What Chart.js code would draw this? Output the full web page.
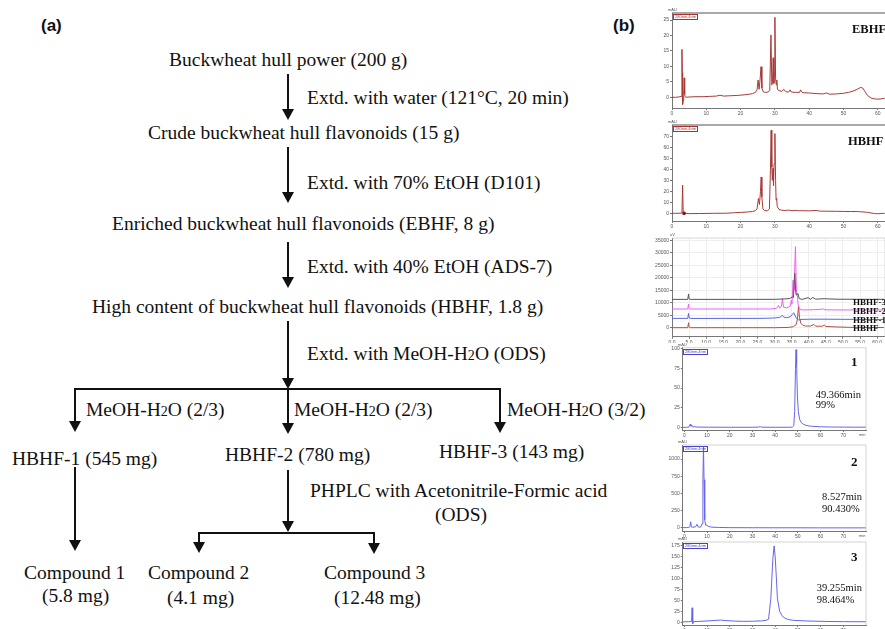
<!DOCTYPE html>
<html><head><meta charset="utf-8">
<script src="https://cdn.jsdelivr.net/npm/chart.js@4"></script>
<style>
html,body{margin:0;padding:0;background:#fff;}
#fig{position:relative;width:885px;height:629px;overflow:hidden;background:#fff;}
.t{position:absolute;white-space:nowrap;font-family:"Liberation Serif","Times New Roman",serif;font-size:19.5px;line-height:1;color:#111;transform:translateY(-50%);}
.s{font-size:0.72em;}
.lab{position:absolute;white-space:nowrap;font-family:"Liberation Sans",Arial,sans-serif;font-weight:bold;font-size:17px;line-height:1;transform:translateY(-50%);color:#111;}
.pl{position:absolute;white-space:nowrap;font-family:"Liberation Serif","Times New Roman",serif;line-height:1;transform:translateY(-50%);color:#111;}
.b{font-weight:bold;}
.tiny{position:absolute;white-space:nowrap;font-family:"Liberation Sans",Arial,sans-serif;font-size:4px;line-height:1;color:#555;}
.box{border:0.6px solid;padding:0 1px;}
canvas{position:absolute;}
svg{position:absolute;left:0;top:0;}
</style></head>
<body><div id="fig">
<div class="lab" style="left:41px;top:25px">(a)</div>
<div class="lab" style="left:613px;top:25px">(b)</div>

<div class="t" style="left:169px;top:60px">Buckwheat hull power (200 g)</div>
<div class="t" style="left:307px;top:98px">Extd. with water (121°C, 20 min)</div>
<div class="t" style="left:148px;top:133px">Crude buckwheat hull flavonoids (15 g)</div>
<div class="t" style="left:307px;top:183px">Extd. with 70% EtOH (D101)</div>
<div class="t" style="left:112px;top:224px">Enriched buckwheat hull flavonoids (EBHF, 8 g)</div>
<div class="t" style="left:307px;top:267px">Extd. with 40% EtOH (ADS-7)</div>
<div class="t" style="left:92px;top:307px">High content of buckwheat hull flavonoids (HBHF, 1.8 g)</div>
<div class="t" style="left:307px;top:354px">Extd. with MeOH-H<span class="s">2</span>O (ODS)</div>
<div class="t" style="left:86px;top:410px">MeOH-H<span class="s">2</span>O (2/3)</div>
<div class="t" style="left:294px;top:410px">MeOH-H<span class="s">2</span>O (2/3)</div>
<div class="t" style="left:507px;top:410px">MeOH-H<span class="s">2</span>O (3/2)</div>
<div class="t" style="left:12px;top:459px">HBHF-1 (545 mg)</div>
<div class="t" style="left:225px;top:455px">HBHF-2 (780 mg)</div>
<div class="t" style="left:439px;top:452px">HBHF-3 (143 mg)</div>
<div class="t" style="left:310px;top:491px">PHPLC with Acetonitrile-Formic acid</div>
<div class="t" style="left:435px;top:515px">(ODS)</div>
<div class="t" style="left:24px;top:573px">Compound 1</div>
<div class="t" style="left:42px;top:596px">(5.8 mg)</div>
<div class="t" style="left:148px;top:573px">Compound 2</div>
<div class="t" style="left:167px;top:598px">(4.1 mg)</div>
<div class="t" style="left:324px;top:573px">Compound 3</div>
<div class="t" style="left:334px;top:598px">(12.48 mg)</div>
</div>
<script>
// ---------------- data ----------------
// (b) top: EBHF chromatogram, [time (min), signal (mAU)]
const ebhfTrace = [[0,0],[1,0],[2,0.1],[2.7,0.3],[2.9,15.5],[3.0,8],[3.1,-2.3],[3.25,-1],[3.4,0.6],[3.55,6.3],[3.7,1],[3.85,0.2],[4.1,0],[5,0.1],[7,0.2],[9,0.2],[11,0.3],[13,0.4],[14,0.7],[15,0.4],[17,0.5],[19,0.6],[21,0.8],[22.5,1.0],[23.5,1.2],[24.3,1.6],[24.8,2.4],[25.1,5.6],[25.4,2.6],[25.7,6],[25.95,9.9],[26.2,3],[26.6,1.8],[27.2,1.6],[28,1.7],[28.5,2.2],[28.85,20.2],[29.1,4],[29.3,5],[29.5,12.8],[29.7,4.5],[29.85,8],[30.0,25.9],[30.2,6],[30.4,4],[30.55,5.6],[30.75,2.5],[31.2,2.2],[32,1.9],[32.6,2.6],[33.2,1.8],[34,1.7],[34.4,2.4],[34.8,1.7],[36,1.6],[37.2,1.6],[37.5,2.4],[38,1.5],[40,1.4],[42,1.2],[44,1.1],[45,1.4],[46,1.0],[48,1.1],[50,1.3],[51.5,1.6],[53,2.1],[54,2.6],[55,3.2],[55.6,3.0],[56.3,1.8],[57,0.6],[58,-0.2],[59,-0.5],[60,-0.6],[61,-0.5],[62,-0.3]];
// (b) second: HBHF chromatogram
const hbhfTrace = [[0,0],[1,0],[2,0],[2.9,0.3],[3.1,25.7],[3.25,2],[3.5,0],[5,-0.3],[8,-0.2],[12,0],[16,0.1],[18,0.5],[20,0.8],[22,1.2],[23.5,1.6],[24.3,2.5],[24.8,4],[25.2,13.6],[25.5,8],[25.8,20],[26.0,33],[26.2,15],[26.5,4],[27,2.5],[27.8,2.3],[28.4,4],[28.7,40],[28.9,75.5],[29.1,42],[29.25,30],[29.45,40.8],[29.6,25],[29.75,45],[30.0,72.5],[30.2,30],[30.35,12],[30.5,13.6],[30.7,6],[31.2,3.5],[32,2.8],[33,2.6],[34,2.9],[35,2.4],[36,2.7],[37,2.3],[38,2.4],[40,2.2],[42,2.6],[43,2.0],[45,1.9],[48,1.8],[50,1.7],[52,1.6],[54,1.6],[55,1.4],[57,0.9],[58,0.3],[59,-0.2],[60,-0.4],[61,-0.2],[62,0]];
const hbhfMarker = [[3.5,0]];
// (b) third: overlay of fractions (stacked baselines)
const ovHBHF = [[0,0],[4.6,0],[4.85,2000],[5.0,300],[5.3,0],[10,0],[20,0],[30,0],[34,100],[35.5,400],[36.3,1200],[36.7,3500],[37.0,8700],[37.3,4000],[37.7,1800],[38.3,900],[39,700],[40.5,650],[41.5,1300],[42,600],[44,600],[44.5,1100],[45,500],[48,300],[52,150],[56,100],[62,50]];
const ovHBHF1 = [[0,3730],[4.6,3730],[4.85,5730],[5.0,3900],[5.5,3700],[15,3730],[25,3730],[28,3800],[30,3900],[31.5,4100],[32.3,4900],[32.7,4200],[33.5,4000],[34.5,4300],[35.3,5500],[35.6,6000],[36,4800],[36.5,3600],[37,3100],[38,3300],[40,3400],[45,3400],[50,3350],[62,3300]];
const ovHBHF2 = [[0,7470],[4.6,7470],[4.85,9470],[5.0,7600],[5.5,7470],[20,7470],[29,7500],[30.5,7700],[31.2,8900],[31.5,7800],[32.0,8500],[32.3,11700],[32.6,8200],[33.5,7900],[34.6,8600],[34.9,11000],[35.1,9500],[35.4,19000],[35.7,15000],[36.1,32400],[36.4,14000],[36.7,12400],[36.9,9100],[37.3,7500],[38,7100],[40,7150],[43,7250],[44,7500],[45,7150],[50,7100],[62,7100]];
const ovHBHF3 = [[0,11330],[4.6,11330],[4.85,13500],[5.0,11500],[5.5,11330],[20,11330],[30,11350],[33,11500],[34.5,11700],[35.2,12400],[35.5,12000],[35.9,21700],[36.2,14000],[36.4,13000],[36.8,13700],[37.2,11700],[38,11300],[39.8,12000],[40.5,11400],[41.2,12100],[42,11400],[44.5,11600],[48,11400],[55,11350],[62,11350]];
// (b) compounds 1-3 purity chromatograms
const cmp1Trace = [[-0.7,0],[1,0],[2,0.3],[2.6,3.8],[2.9,1.5],[3.2,3],[3.6,0.5],[4.5,0.8],[6,0.3],[10,0.2],[20,0.1],[30,0.1],[32.8,0.3],[33.4,1],[34,0.2],[40,0.1],[46,0.1],[47.6,0.3],[48.2,2],[48.6,20],[48.95,75],[49.2,99],[49.45,80],[49.8,40],[50.2,20],[50.8,10],[51.5,6],[52.5,3.8],[54,2.2],[56,1.3],[60,0.7],[65,0.4],[70,0.3],[75,0.2],[80,0.2]];
const cmp2Trace = [[-0.7,5],[1,6],[2,8],[2.5,20],[2.8,91],[3.1,15],[3.8,10],[5,18],[5.6,53],[6.1,15],[7.2,12],[7.8,60],[8.2,700],[8.45,1173],[8.7,700],[9.0,120],[9.4,40],[9.9,43],[10.5,25],[12,12],[15,8],[20,5],[30,4],[40,3],[50,3],[60,2],[70,2],[80,2]];
const cmp3Trace = [[-0.7,1],[2,1.5],[3.2,2],[3.45,33],[3.7,-3],[4.0,1.5],[6,2],[10,3],[14,4.5],[16,5],[18,4],[22,2.8],[26,2.2],[30,2.5],[34,3.2],[36,4.5],[37.1,7],[38.1,54],[39.0,145],[39.55,173.5],[40.0,150],[40.5,105],[41,54],[42,25],[43,15],[44.4,9],[46,6],[48,4.5],[54,3],[62,2],[70,1.5],[80,1.2]];

// tick values / labels
const xTicksA = [0,10,20,30,40,50,60];
const xLabelsA = ['0','10','20','30','40','50','60'];
const yTicks1 = [0,5,10,15,20,25];
const yTicks2 = [0,10,20,30,40,50,60,70];
const xTicks3 = [0,5,10,15,20,25,30,35,40,45,50,55,60];
const xLabels3 = ['0.0','5.0','10.0','15.0','20.0','25.0','30.0','35.0','40.0','45.0','50.0','55.0','60.0'];
const yTicks3 = [0,5000,10000,15000,20000,25000,30000,35000];
const xTicksC = [0,10,20,30,40,50,60,70];
const xLabelsC = ['0','10','20','30','40','50','60','70'];
const yTicks4 = [0,25,50,75,100];
const yTicks5 = [0,250,500,750,1000];
const yTicks6 = [0,25,50,75,100,125,150,175];

// ---------------- flowchart arrows ----------------
const fig = document.getElementById('fig');
const NS = 'http://www.w3.org/2000/svg';
const svg = document.createElementNS(NS,'svg');
svg.setAttribute('width','885'); svg.setAttribute('height','629');
fig.insertBefore(svg, fig.firstChild);
function seg(x1,y1,x2,y2){const l=document.createElementNS(NS,'line');l.setAttribute('x1',x1);l.setAttribute('y1',y1);l.setAttribute('x2',x2);l.setAttribute('y2',y2);l.setAttribute('stroke','#111');l.setAttribute('stroke-width','2');l.setAttribute('stroke-linecap','square');svg.appendChild(l);}
function arrow(x,y1,y2){seg(x,y1,x,y2-8);const p=document.createElementNS(NS,'polygon');p.setAttribute('points',`${x-6},${y2-11} ${x+6},${y2-11} ${x},${y2}`);p.setAttribute('fill','#111');svg.appendChild(p);}
arrow(288,75,120); arrow(288,148,203); arrow(288,243,288); arrow(288,322,389);
seg(75,389,500,389);
arrow(75,389,432); arrow(288,389,434); arrow(500,389,433);
arrow(75,468,551); arrow(288,471,532);
seg(199,533,374,533);
arrow(199,533,553); arrow(374,533,554);

// ---------------- chromatogram panels ----------------
const framePlugin = {id:'frame', afterDraw(chart,args,o){
  if(!o || !o.sides) return; const a=chart.chartArea, ctx=chart.ctx;
  ctx.save(); ctx.strokeStyle=o.color; ctx.lineWidth=o.width; ctx.beginPath();
  if(o.sides.includes('t')){ctx.moveTo(a.left,a.top);ctx.lineTo(a.right,a.top);}
  if(o.sides.includes('r')){ctx.moveTo(a.right,a.top);ctx.lineTo(a.right,a.bottom);}
  ctx.stroke(); ctx.restore();}};
const pts = arr => arr.map(p => ({x:p[0], y:p[1]}));
const tickFont = {size:5, family:'Liberation Sans'};
function panel(box, area, xr, yr, xt, xl, yt, datasets, frame, gridOn){
  const c=document.createElement('canvas'); c.width=box.w; c.height=box.h;
  c.style.left=box.x+'px'; c.style.top=box.y+'px'; c.style.width=box.w+'px'; c.style.height=box.h+'px';
  fig.appendChild(c);
  const yW=area.l-box.x, xH=box.y+box.h-area.b;
  new Chart(c,{type:'line',data:{datasets},
    options:{responsive:false,animation:false,devicePixelRatio:1,
      layout:{autoPadding:false,padding:{left:0,top:area.t-box.y,right:box.x+box.w-area.r,bottom:0}},
      plugins:{legend:{display:false},tooltip:{enabled:false},frame},
      elements:{point:{radius:0},line:{borderWidth:1,tension:0}},
      scales:{
        x:{type:'linear',min:xr[0],max:xr[1],afterFit:s=>{s.height=xH;},
           afterBuildTicks:s=>{s.ticks=xt.map(v=>({value:v}));},
           ticks:{callback:(v,i)=>xl[i],font:tickFont,color:'#555',padding:1,maxRotation:0,autoSkip:false},
           grid:{drawOnChartArea:!!gridOn,color:gridOn?'#eeeeee':'#777',tickColor:'#777',tickLength:2},
           border:{color:'#777',width:1}},
        y:{type:'linear',min:yr[0],max:yr[1],afterFit:s=>{s.width=yW;},
           afterBuildTicks:s=>{s.ticks=yt.map(v=>({value:v}));},
           ticks:{callback:v=>String(v),font:tickFont,color:'#555',padding:1,autoSkip:false},
           grid:{drawOnChartArea:!!gridOn,color:gridOn?'#eeeeee':'#777',tickColor:'#777',tickLength:2},
           border:{color:'#777',width:1}}
      }},plugins:[framePlugin]});
}
const red='#a83a36', blue='#6666e8';
const ds = (arr,col,extra) => Object.assign({data:pts(arr),borderColor:col,borderWidth:1,pointRadius:0,fill:false},extra||{});

panel({x:640,y:4,w:245,h:113},{l:672,t:13,r:885,b:108},[0,62.1],[-3.46,27.28],xTicksA,xLabelsA,yTicks1,
  [ds(ebhfTrace,red)],{sides:'t',color:'#555',width:1.2});
panel({x:640,y:117,w:245,h:113},{l:672,t:125,r:885,b:221},[0,62.1],[-7,80.3],xTicksA,xLabelsA,yTicks2,
  [ds(hbhfMarker,'#8a1010',{pointRadius:1.6,pointStyle:'rect',pointBackgroundColor:'#8a1010',showLine:false}),ds(hbhfTrace,red)],{sides:'t',color:'#555',width:1.2});
panel({x:640,y:230,w:245,h:113},{l:672,t:238,r:885,b:336.7},[0,62.3],[-3600,35880],xTicks3,xLabels3,yTicks3,
  [ds(ovHBHF3,'#555555'),ds(ovHBHF2,'#f060f0'),ds(ovHBHF1,'#5a66e0'),ds(ovHBHF,'#b0503c')],{sides:'tr',color:'#cccccc',width:0.8},true);
panel({x:645,y:343,w:235,h:96},{l:682.7,t:347.7,r:866,b:430},[-0.7,80],[-3.4,101.5],xTicksC,xLabelsC,yTicks4,
  [ds(cmp1Trace,blue)],{sides:'tr',color:'#c8c8c8',width:0.8});
panel({x:645,y:439,w:235,h:99},{l:682.7,t:445,r:866,b:531},[-0.7,80],[-43.5,1203],xTicksC,xLabelsC,yTicks5,
  [ds(cmp2Trace,blue)],{sides:'tr',color:'#c8c8c8',width:0.8});
panel({x:645,y:538,w:235,h:91},{l:682.7,t:541.7,r:866,b:625},[-0.7,80],[-6.1,182.4],xTicksC,xLabelsC,yTicks6,
  [ds(cmp3Trace,blue)],{sides:'tr',color:'#c8c8c8',width:0.8});

// ---------------- panel texts ----------------
function txt(cls,html,left,top,size,extra){const d=document.createElement('div');d.className=cls;d.innerHTML=html;d.style.left=left+'px';d.style.top=top+'px';if(size)d.style.fontSize=size+'px';if(extra)Object.assign(d.style,extra);fig.appendChild(d);}
txt('pl b','EBHF',852,29,12.5);
txt('pl b','HBHF',848,141,12.5);
txt('pl b','HBHF-3',853,302,9);
txt('pl b','HBHF-2',853,311,9);
txt('pl b','HBHF-1',853,319.5,9);
txt('pl b','HBHF',853,327.5,9);
txt('pl b','1',851,361,13);
txt('pl','49.366min',815.7,395,10.5);
txt('pl','99%',815.7,405,10.5);
txt('pl b','2',851,461,13);
txt('pl','8.527min',822,497,10.5);
txt('pl','90.430%',822,509,10.5);
txt('pl b','3',851,556,13);
txt('pl','39.255min',816.7,587.5,10.5);
txt('pl','98.464%',816.7,600,10.5);
// small instrument annotations
txt('tiny','mAU',668,8);
txt('tiny','mAU',668,120);
txt('tiny','uV',670,233);
txt('tiny','mAU',678,343);
txt('tiny','mAU',678,440);
txt('tiny','mAU',678,537);
txt('tiny box','280nm,4nm',673,13.5,null,{color:'#b03030',borderColor:'#b03030'});
txt('tiny box','280nm,4nm',673,125.5,null,{color:'#b03030',borderColor:'#b03030'});
txt('tiny box','280nm,4nm',683,348.5,null,{color:'#4444cc',borderColor:'#4444cc'});
txt('tiny box','280nm,4nm',683,445.5,null,{color:'#4444cc',borderColor:'#4444cc'});
txt('tiny box','280nm,4nm',683,542.5,null,{color:'#4444cc',borderColor:'#4444cc'});
txt('tiny','min',859,433);
txt('tiny','min',859,534);
</script>
</body></html>
